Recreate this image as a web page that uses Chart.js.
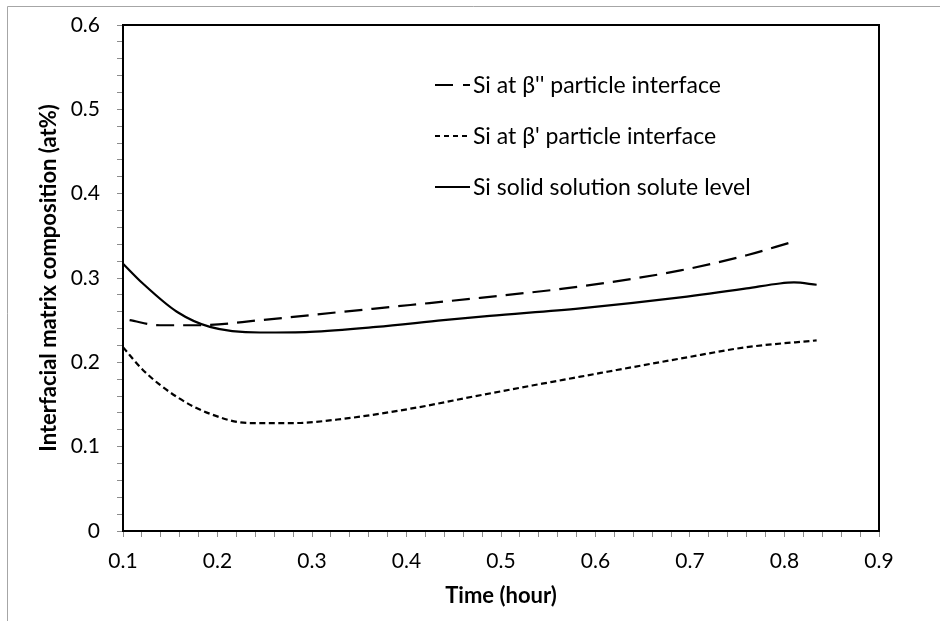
<!DOCTYPE html>
<html lang="en">
<head>
<meta charset="UTF-8">
<title>Interfacial matrix composition</title>
<style>
    body {
        margin: 0;
        padding: 0;
        background: #fff;
    }
    .wrap {
        position: relative;
        width: 940px;
        height: 621px;
    }
</style>
</head>
<body>
<div class="wrap">
    <canvas id="chart"></canvas>
</div>

<script src="https://cdn.jsdelivr.net/npm/chart.js"></script>
<script>
    // Values
    const seriesLabels = ["Si at β'' particle interface", "Si at β' particle interface", "Si solid solution solute level"];

    const betaDblTime = [0.107, 0.139, 0.181, 0.245, 0.333, 0.404, 0.478, 0.584, 0.690, 0.760, 0.806];
    const betaDblVal  = [0.250, 0.244, 0.244, 0.250, 0.260, 0.268, 0.2765, 0.290, 0.309, 0.327, 0.342];

    const betaPrimeTime = [0.100, 0.121, 0.157, 0.192, 0.234, 0.280, 0.333, 0.404, 0.478, 0.584, 0.690, 0.760, 0.834];
    const betaPrimeVal  = [0.218, 0.191, 0.159, 0.139, 0.128, 0.128, 0.133, 0.145, 0.161, 0.183, 0.2045, 0.218, 0.226];

    const solidTime = [0.100, 0.121, 0.157, 0.192, 0.245, 0.298, 0.368, 0.439, 0.488, 0.584, 0.690, 0.760, 0.795, 0.810, 0.834];
    const solidVal  = [0.317, 0.2935, 0.260, 0.242, 0.2354, 0.2362, 0.242, 0.250, 0.255, 0.264, 0.277, 0.2876, 0.2935, 0.2947, 0.292];

    const xTicks = { min: 0.1, max: 0.9, major: 0.1, minor: 0.02 };
    const yTicks = { min: 0, max: 0.6, major: 0.1, minor: 0.02 };

    const toPoints = (xs, ys) => xs.map((x, i) => ({ x: x, y: ys[i] }));
    const isMajor = (v, step) => Math.abs(v / step - Math.round(v / step)) < 1e-6;
    const fmt = v => String(Math.round(v * 10) / 10);

    const FONT = 'Lato, "Open Sans", sans-serif';

    // gray outer border + top/right frame of the plot, and the in-plot legend
    const framePlugin = {
        id: 'frame',
        beforeDraw(chart) {
            const ctx = chart.ctx;
            ctx.save();
            ctx.strokeStyle = '#a6a6a6';
            ctx.lineWidth = 1;
            ctx.beginPath();
            ctx.moveTo(7.5, chart.height);
            ctx.lineTo(7.5, 6.5);
            ctx.lineTo(chart.width, 6.5);
            ctx.stroke();
            ctx.restore();
        },
        afterDraw(chart) {
            const { ctx, chartArea: a } = chart;
            ctx.save();
            ctx.strokeStyle = '#000';
            ctx.lineWidth = 2;
            ctx.beginPath();
            ctx.moveTo(a.left, a.top);
            ctx.lineTo(a.right, a.top);
            ctx.lineTo(a.right, a.bottom);
            ctx.stroke();

            // legend
            const lx = a.left + 312;
            let ly = a.top + 60;
            ctx.font = '23px ' + FONT;
            ctx.textBaseline = 'middle';
            ctx.fillStyle = '#000';
            chart.data.datasets.forEach(ds => {
                ctx.setLineDash(ds.legendDash || []);
                ctx.lineWidth = ds.borderWidth;
                ctx.strokeStyle = ds.borderColor;
                ctx.beginPath();
                ctx.moveTo(lx, ly);
                ctx.lineTo(lx + 35, ly);
                ctx.stroke();
                ctx.setLineDash([]);
                ctx.fillText(ds.label, lx + 38, ly + 1);
                ly += 51;
            });
            ctx.restore();
        }
    };

    const ctx = document.getElementById('chart').getContext('2d');
    new Chart(ctx, {
        type: 'line',
        data: {
            datasets: [{
                label: seriesLabels[0],
                data: toPoints(betaDblTime, betaDblVal),
                borderColor: '#000',
                borderWidth: 2.2,
                borderDash: [18, 9],
                legendDash: [18, 10],
                pointRadius: 0,
                cubicInterpolationMode: 'monotone',
                fill: false
            }, {
                label: seriesLabels[1],
                data: toPoints(betaPrimeTime, betaPrimeVal),
                borderColor: '#000',
                borderWidth: 2.2,
                borderDash: [6, 3.5],
                legendDash: [5, 4],
                pointRadius: 0,
                cubicInterpolationMode: 'monotone',
                fill: false
            }, {
                label: seriesLabels[2],
                data: toPoints(solidTime, solidVal),
                borderColor: '#000',
                borderWidth: 2.2,
                pointRadius: 0,
                cubicInterpolationMode: 'monotone',
                fill: false
            }]
        },
        options: {
            responsive: true,
            maintainAspectRatio: false,
            animation: false,
            layout: { padding: { top: 25, right: 61, left: 0, bottom: 0 } },
            plugins: {
                legend: { display: false },
                tooltip: { enabled: false }
            },
            scales: {
                x: {
                    type: 'linear',
                    min: xTicks.min,
                    max: xTicks.max,
                    afterFit: s => { s.height = 90; },
                    border: { color: '#000', width: 2 },
                    grid: { drawOnChartArea: false, tickLength: 6, color: '#8c8c8c' },
                    ticks: {
                        stepSize: xTicks.minor,
                        autoSkip: false,
                        maxRotation: 0,
                        padding: 12,
                        color: '#000',
                        font: { family: FONT, size: 21 },
                        callback: v => isMajor(v, xTicks.major) ? fmt(v) : ''
                    },
                    title: {
                        display: true,
                        text: 'Time (hour)',
                        color: '#000',
                        font: { family: FONT, size: 22, weight: 'bold' },
                        padding: { top: 0, bottom: 12 }
                    }
                },
                y: {
                    min: yTicks.min,
                    max: yTicks.max,
                    afterFit: s => {
                        s.width = 123;
                        // tick padding would otherwise push the plot top down
                        s.paddingTop = 0;
                        s.paddingBottom = 0;
                    },
                    border: { color: '#000', width: 2 },
                    grid: { drawOnChartArea: false, tickLength: 6, color: '#8c8c8c' },
                    ticks: {
                        stepSize: yTicks.minor,
                        autoSkip: false,
                        padding: 17,
                        color: '#000',
                        font: { family: FONT, size: 21 },
                        callback: v => isMajor(v, yTicks.major) ? fmt(v) : ''
                    },
                    title: {
                        display: true,
                        text: 'Interfacial matrix composition (at%)',
                        color: '#000',
                        font: { family: FONT, size: 22, weight: 'bold' },
                        padding: { top: 36, bottom: 0 }
                    }
                }
            }
        },
        plugins: [framePlugin]
    });
</script>
</body>
</html>
